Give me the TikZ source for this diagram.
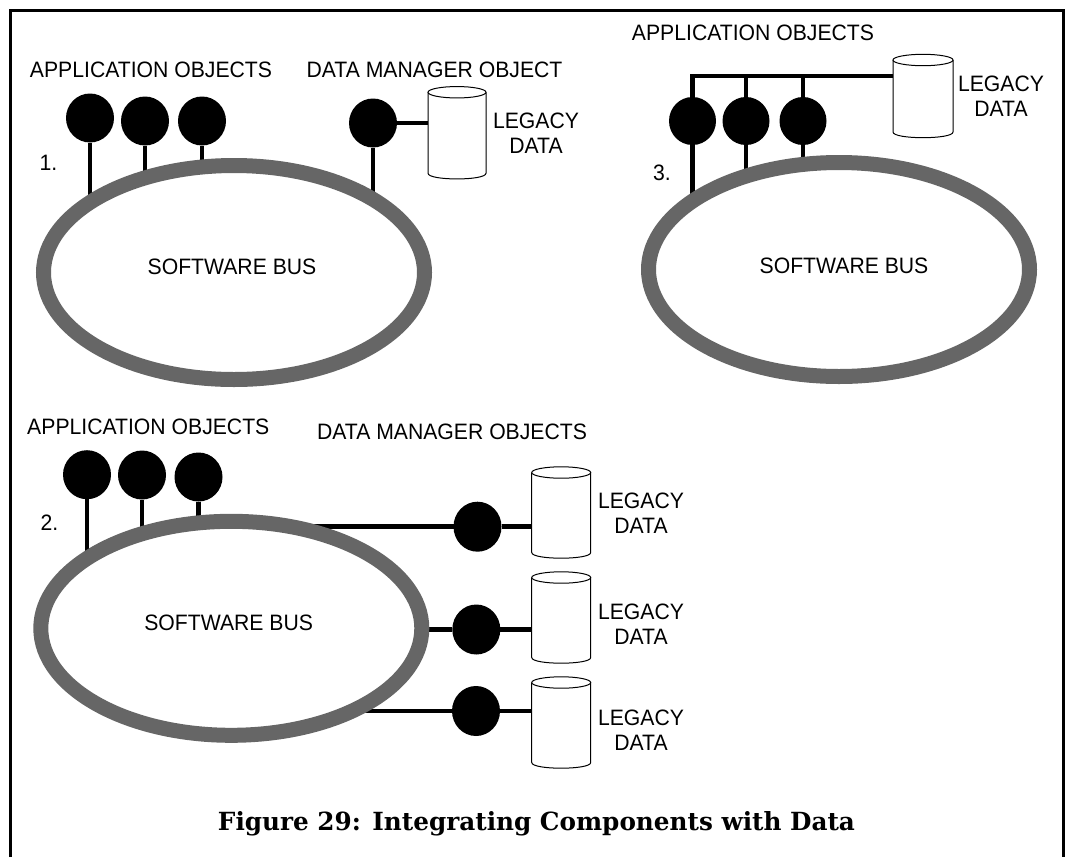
\documentclass[tikz,border=0pt]{standalone}
\usepackage{fontspec}
\usepackage{graphicx}
\setmainfont{Liberation Sans}[FakeStretch=0.95]
\newfontfamily\capfont{DejaVu Serif}
\usetikzlibrary{shapes.geometric,calc}
\pgfdeclarelayer{bg}
\pgfsetlayers{bg,main}
\definecolor{busgray}{RGB}{102,102,102}
\newcommand\drawcyl[2]{%
  \draw[cylline] (#1.north west) -- (#1.south west)
     .. controls ($(#1.south west)+(0,7.6)$) and ($(#1.south east)+(0,7.6)$) .. (#1.south east)
     -- (#1.north east);
  \draw[cylline] (#1.north) ellipse [x radius=#2pt, y radius=5.7pt];
}
\begin{document}
\begin{tikzpicture}[x=1pt,y=-1pt,
  bus/.style={ellipse, draw=busgray, fill=white, line width=15pt, inner sep=0pt,
              minimum width=381pt, minimum height=214pt},
  bulb/.style={ellipse, fill=black, draw=none, inner sep=0pt, outer sep=0pt,
              minimum width=48pt, minimum height=49pt},
  wire/.style={line width=4.7pt, black},
  cylbox/.style={rectangle, draw=none, inner sep=0pt, outer sep=0pt, minimum width=59pt},
  cylline/.style={line width=1pt, black, fill=white},
  lbl/.style={font=\fontsize{22.3}{25}\selectfont, inner sep=0pt, align=center},
  frameline/.style={line width=3pt, black}]
\useasboundingbox (0,0) rectangle (1065,857);

% frame
\draw[frameline] (10.5,857) -- (10.5,10.5) -- (1063.3,10.5) -- (1063.3,857);

% ---------- Section 1 ----------
\node[bus] (e1) at (234,272.5) {};
\node[lbl] (sb1) at (232,266.7) {SOFTWARE BUS};
\node[bulb] (a11) at (90,118) {};
\node[bulb] (a12) at (145,121) {};
\node[bulb] (a13) at (202,121) {};
\node[bulb] (d1) at (373,123) {};
\node[cylbox, minimum width=58pt, minimum height=81pt] (c1) at (457,132.75) {};
\drawcyl{c1}{29}
\node[lbl] (ao1) at (151,70) {APPLICATION OBJECTS};
\node[lbl] (dmo1) at (434.5,70) {DATA MANAGER OBJECT};
\node[lbl] (ld1) at (536,133) {LEGACY\\DATA};
\node[lbl] (n1) at (48.5,163.3) {1.};
\begin{pgfonlayer}{bg}
  \draw[wire] (a11) -- (a11 |- e1.center);
  \draw[wire] (a12) -- (a12 |- e1.center);
  \draw[wire] (a13) -- (a13 |- e1.center);
  \draw[wire] (d1) -- (d1 |- e1.center);
  \draw[wire] (d1) -- (d1 -| c1.west);
\end{pgfonlayer}

% ---------- Section 3 ----------
\node[bus] (e3) at (839,269.5) {};
\node[lbl] (sb3) at (844,266) {SOFTWARE BUS};
\node[bulb, minimum width=47pt, minimum height=48pt] (b31) at (692.5,121) {};
\node[bulb, minimum width=47pt, minimum height=48pt] (b32) at (746,121) {};
\node[bulb, minimum width=47pt, minimum height=48pt] (b33) at (803,121) {};
\node[cylbox, minimum width=60pt, minimum height=72pt] (c3) at (923,96) {};
\drawcyl{c3}{30}
\coordinate (t3) at (692.5,76);
\node[lbl] (ao3) at (753,33) {APPLICATION OBJECTS};
\node[lbl] (ld3) at (1001,96.5) {LEGACY\\DATA};
\node[lbl] (n3) at (662,173) {3.};
\begin{pgfonlayer}{bg}
  \draw[wire] (b31 |- e3.center) -- (t3) -- (c3.west |- t3);
  \draw[wire] (b32 |- t3) -- (b32 |- e3.center);
  \draw[wire] (b33 |- t3) -- (b33 |- e3.center);
\end{pgfonlayer}

% ---------- Section 2 ----------
\node[bus] (e2) at (231.3,628.3) {};
\node[lbl] (sb2) at (228.7,622.7) {SOFTWARE BUS};
\node[bulb] (a21) at (87,474.7) {};
\node[bulb] (a22) at (142,475) {};
\node[bulb] (a23) at (198.5,477) {};
\node[bulb, minimum height=50pt] (dm1) at (477.5,526.7) {};
\node[bulb, minimum height=50pt] (dm2) at (476.3,629.5) {};
\node[bulb, minimum height=50pt] (dm3) at (476,711) {};
\node[cylbox, minimum height=80pt] (c21) at (561.2,512.5) {};
\node[cylbox, minimum height=80pt] (c22) at (561.2,617.5) {};
\node[cylbox, minimum height=80pt] (c23) at (561.2,722.5) {};
\drawcyl{c21}{29.5}
\drawcyl{c22}{29.5}
\drawcyl{c23}{29.5}
\node[lbl] (ao2) at (148.3,426.7) {APPLICATION OBJECTS};
\node[lbl] (dmo2) at (452,432) {DATA MANAGER OBJECTS};
\node[lbl] (ld21) at (641,513) {LEGACY\\DATA};
\node[lbl] (ld22) at (641,624.5) {LEGACY\\DATA};
\node[lbl] (ld23) at (641,730) {LEGACY\\DATA};
\node[lbl] (n2) at (49.5,523) {2.};
\begin{pgfonlayer}{bg}
  \draw[wire] (a21) -- (a21 |- e2.center);
  \draw[wire] (a22) -- (a22 |- e2.center);
  \draw[wire] (a23) -- (a23 |- e2.center);
  \draw[wire] (dm1) -- (dm1 -| e2.center);
  \draw[wire] (dm2) -- (dm2 -| e2.center);
  \draw[wire] (dm3) -- (dm3 -| e2.center);
  \draw[wire] (dm1) -- (dm1 -| c21.west);
  \draw[wire] (dm2) -- (dm2 -| c22.west);
  \draw[wire] (dm3) -- (dm3 -| c23.west);
\end{pgfonlayer}

% caption
\node[anchor=base, inner sep=0pt] (cap) at (536.5,830)
  {\resizebox{637pt}{\height}{\capfont\bfseries\fontsize{25}{28}\selectfont Figure 29: Integrating Components with Data}};
\end{tikzpicture}
\end{document}
